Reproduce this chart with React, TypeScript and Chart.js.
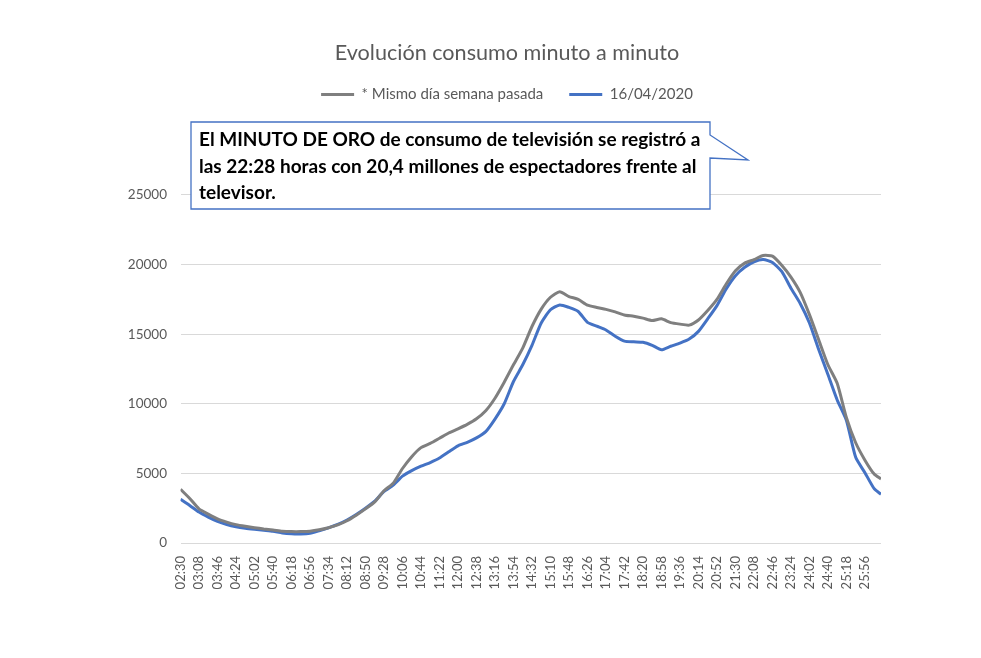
import React, { useEffect, useRef } from 'react';
import { Chart, registerables } from 'chart.js';

Chart.register(...registerables);

const TITLE = 'Evolución consumo minuto a minuto';
const SERIES_NAMES = ['* Mismo día semana pasada', '16/04/2020'];
const SERIES_COLORS = ['#7f7f7f', '#4472c4'];

// minutes since 00:00 (02:30 .. 26:29), sampled every 19 minutes
const START_MIN = 150;
const STEP_MIN = 19;
const END_MIN = 1589;
const TICK_STEP_MIN = 38;

const TICK_LABELS = [
  '02:30', '03:08', '03:46', '04:24', '05:02', '05:40', '06:18', '06:56', '07:34', '08:12',
  '08:50', '09:28', '10:06', '10:44', '11:22', '12:00', '12:38', '13:16', '13:54', '14:32',
  '15:10', '15:48', '16:26', '17:04', '17:42', '18:20', '18:58', '19:36', '20:14', '20:52',
  '21:30', '22:08', '22:46', '23:24', '24:02', '24:40', '25:18', '25:56',
];

const LAST_WEEK = [
  3860, 3200, 2450, 2070, 1730, 1500, 1320, 1200, 1100, 1010,
  940, 850, 820, 820, 850, 950, 1100, 1300, 1600, 2000,
  2450, 2950, 3750, 4300, 5350, 6200, 6850, 7150, 7520, 7900,
  8200, 8520, 8920, 9500, 10400, 11550, 12800, 14000, 15550, 16800,
  17650, 18050, 17700, 17500, 17080, 16920, 16780, 16600, 16380, 16280,
  16150, 15980, 16100, 15830, 15720, 15650, 16020, 16700, 17500, 18600,
  19550, 20100, 20350, 20650, 20600, 19950, 19100, 18000, 16400, 14600,
  12800, 11470, 9000, 7200, 5950, 4950, 4600,
];

const APRIL_16 = [
  3140, 2700, 2220, 1860, 1550, 1330, 1170, 1060, 980, 910,
  840, 720, 660, 650, 700, 880, 1090, 1330, 1650, 2050,
  2500, 3000, 3700, 4150, 4800, 5200, 5520, 5780, 6100, 6550,
  6980, 7230, 7550, 8000, 8900, 10000, 11600, 12800, 14200, 15800,
  16750, 17100, 16920, 16630, 15850, 15570, 15300, 14850, 14500, 14450,
  14420, 14200, 13880, 14130, 14360, 14650, 15200, 16100, 17050, 18250,
  19200, 19800, 20200, 20370, 20150, 19500, 18300, 17200, 15800, 13900,
  12100, 10270, 8800, 6150, 5050, 3900, 3500,
];

const NOTE_LINES = [
  'El MINUTO DE ORO de consumo de televisión se registró a',
  'las 22:28 horas con 20,4 millones de espectadores frente al',
  'televisor.',
];

const TIMES = LAST_WEEK.map((_, i) =>
  i === LAST_WEEK.length - 1 ? END_MIN : START_MIN + i * STEP_MIN
);

const W = 965;
const H = 642;
const FONT = 'Lato, "Open Sans", sans-serif';

export default function App() {
  const canvasRef = useRef<HTMLCanvasElement | null>(null);

  useEffect(() => {
    if (!canvasRef.current) return;
    const legendSpacer = {
      id: 'legendSpacer',
      beforeInit(chart: any) {
        const legend = chart.legend;
        if (!legend) return;
        const origFit = legend.fit;
        legend.fit = function () {
          origFit.call(this);
          this.height += 83;
        };
      },
    };
    const chart = new Chart(canvasRef.current, {
      type: 'line',
      data: {
        datasets: [LAST_WEEK, APRIL_16].map((vals, s) => ({
          label: SERIES_NAMES[s],
          data: vals.map((v, i) => ({ x: TIMES[i], y: v })),
          borderColor: SERIES_COLORS[s],
          backgroundColor: SERIES_COLORS[s],
          borderWidth: 3,
          pointRadius: 0,
          tension: 0.2,
          fill: false,
        })),
      },
      options: {
        responsive: false,
        animation: false,
        font: { family: FONT },
        layout: { padding: { left: 125, right: 92, top: 0, bottom: 10 } },
        plugins: {
          title: {
            display: true,
            text: TITLE,
            color: '#595959',
            font: { family: FONT, size: 21.6, weight: 'normal', lineHeight: 1.2 },
            padding: { top: 32, bottom: -5 },
          },
          legend: {
            display: true,
            position: 'top',
            labels: {
              boxWidth: 33,
              boxHeight: 3,
              padding: 26,
              color: '#595959',
              font: { family: FONT, size: 15 },
              generateLabels: (chart: any) =>
                Chart.defaults.plugins.legend.labels.generateLabels(chart).map((l: any) => ({
                  ...l,
                  fillStyle: SERIES_COLORS[l.datasetIndex],
                  lineWidth: 0,
                })),
            },
          },
          tooltip: { enabled: false },
        },
        scales: {
          x: {
            type: 'linear',
            min: START_MIN,
            max: END_MIN,
            grid: { display: false, drawTicks: false },
            border: { display: false },
            afterBuildTicks: (scale: any) => {
              scale.ticks = TICK_LABELS.map((_, k) => ({ value: START_MIN + k * TICK_STEP_MIN }));
            },
            afterFit: (scale: any) => {
              scale.height = H - 535 - 10;
            },
            ticks: {
              autoSkip: false,
              minRotation: 90,
              maxRotation: 90,
              padding: 13,
              color: '#595959',
              font: { family: FONT, size: 13 },
              callback: (_v: any, index: number) => TICK_LABELS[index],
            },
          },
          y: {
            min: 0,
            max: 25000,
            grid: { color: '#d9d9d9', lineWidth: 1, drawTicks: false },
            border: { display: false },
            afterFit: (scale: any) => {
              scale.width = 47.5;
              // let the tick labels extend left of the narrow axis box
              scale._computeLabelArea = () => undefined;
            },
            ticks: {
              stepSize: 5000,
              padding: 13.5,
              color: '#595959',
              font: { family: FONT, size: 13.5 },
              callback: (v: any) => String(v),
            },
          },
        },
      },
      plugins: [legendSpacer],
    } as any);
    return () => chart.destroy();
  }, []);

  return (
    <div style={{ position: 'relative', width: W, height: H }}>
      <canvas ref={canvasRef} width={W} height={H} style={{ display: 'block', width: W, height: H }} />
      <svg
        width={W}
        height={H}
        style={{ position: 'absolute', left: 0, top: 0, pointerEvents: 'none' }}
      >
        <polygon
          points="183,114 702,114 702,127 740,152 702,150 702,201 183,201"
          fill="#ffffff"
          stroke="#4472c4"
          strokeWidth={1.3}
          strokeLinejoin="miter"
        />
      </svg>
      <div
        style={{
          position: 'absolute',
          left: 191,
          top: 118,
          fontFamily: FONT,
          fontWeight: 700,
          fontSize: 19,
          lineHeight: '26.5px',
          color: '#000',
          whiteSpace: 'nowrap',
          pointerEvents: 'none',
        }}
      >
        {NOTE_LINES.map((t, i) => (
          <div key={i}>{t}</div>
        ))}
      </div>
    </div>
  );
}
